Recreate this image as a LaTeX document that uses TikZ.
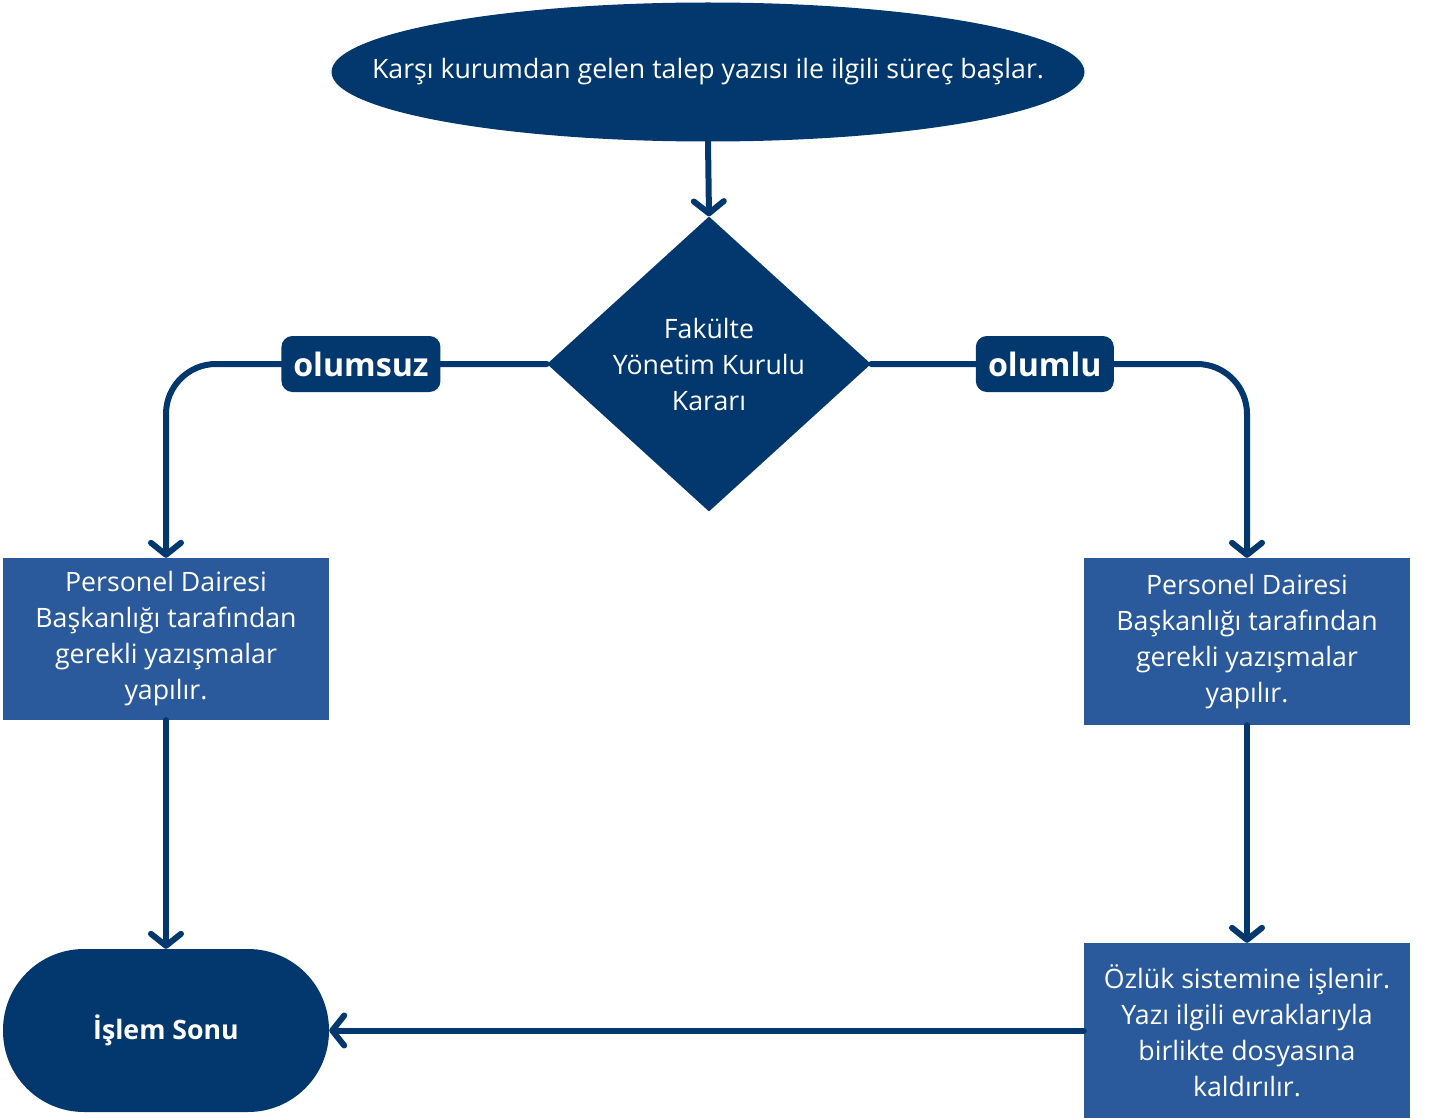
\documentclass[tikz,border=0pt]{standalone}
\usepackage{fontspec}
\setmainfont{Open Sans}
\usetikzlibrary{positioning, arrows.meta, shapes.geometric}
\definecolor{navyFill}{HTML}{02386E}
\definecolor{boxFill}{HTML}{2A5A9B}

\begin{document}
\begin{tikzpicture}[
  x=1pt, y=-1pt,
  font=\fontsize{26.7}{36}\selectfont,
  term/.style={ellipse, fill=navyFill, text=white, inner xsep=-90pt, inner ysep=0pt,
               minimum width=753pt, minimum height=139pt},
  dec/.style={diamond, fill=navyFill, text=white, align=center, inner sep=0pt,
              aspect=1.1, minimum width=324pt, minimum height=295pt},
  proc/.style={rectangle, fill=boxFill, text=white, align=center, inner sep=0pt,
               minimum width=326pt},
  stop/.style={rectangle, rounded corners=81pt, fill=navyFill, text=white,
               font=\fontsize{26.7}{36}\selectfont\bfseries,
               minimum width=326pt, minimum height=163pt},
  lbl/.style={rectangle, rounded corners=11pt, fill=navyFill, text=white,
              font=\fontsize{32.2}{36}\selectfont\bfseries, inner sep=0pt,
              minimum height=56pt},
  arr/.style={-{Straight Barb[round, length=12pt, width=30pt]}, line width=6pt,
              draw=navyFill, line cap=round},
]
\useasboundingbox (0,0) rectangle (1433,1118);

% ---- Start and decision ----
\node[term] (start) at (708,72)  {Karşı kurumdan gelen talep yazısı ile ilgili süreç başlar.};
\node[dec]  (kurul) at (709,364) {Fakülte\\Yönetim Kurulu\\Kararı};

% ---- Personnel boxes ----
\node[proc, minimum height=162pt] (negbox) at (166,639)
     {Personel Dairesi\\Başkanlığı tarafından\\gerekli yazışmalar\\yapılır.};
\node[proc, minimum height=167pt] (posbox) at (1247,641.5)
     {Personel Dairesi\\Başkanlığı tarafından\\gerekli yazışmalar\\yapılır.};
\node[proc, minimum height=175pt] (ozluk) at (1247,1030.5)
     {Özlük sistemine işlenir.\\Yazı ilgili evraklarıyla\\birlikte dosyasına\\kaldırılır.};

% ---- End ----
\node[stop] (son) at (166,1030.5) {İşlem Sonu};

% ---- Arrows ----
\draw[arr] (start.south) -- (kurul.north);
\draw[arr, rounded corners=50pt] (kurul.west) -| node[lbl, pos=0.244, minimum width=159pt] (olumsuz) {olumsuz} (negbox.north);
\draw[arr, rounded corners=50pt] (kurul.east) -| node[lbl, pos=0.231, minimum width=138pt] (olumlu) {olumlu} (posbox.north);
\draw[arr] (negbox.south) -- (son.north);
\draw[arr] (posbox.south) -- (ozluk.north);
\draw[arr] (ozluk.west) -- (son.east);

\end{tikzpicture}
\end{document}
